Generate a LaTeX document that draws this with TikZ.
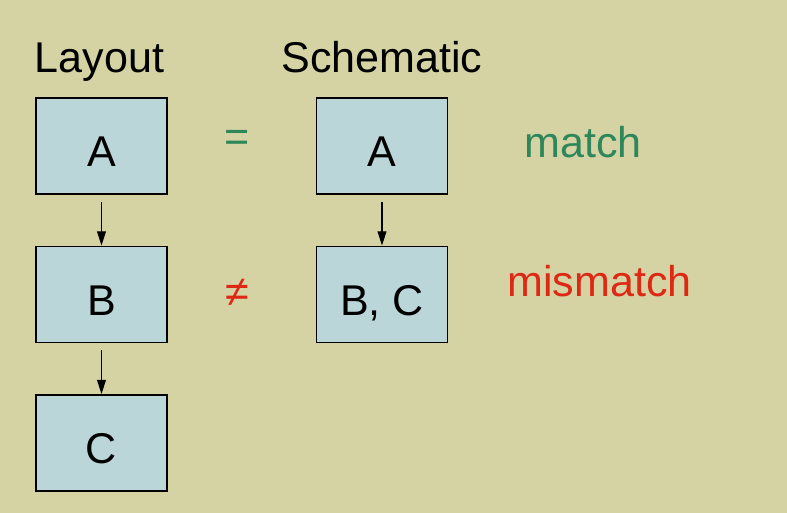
\documentclass[tikz,border=0pt]{standalone}
\usepackage{fontspec}
\setmainfont{Liberation Sans}
\usetikzlibrary{arrows.meta, positioning}
\definecolor{slidebg}{RGB}{213,211,163}
\definecolor{boxfill}{RGB}{186,214,216}
\definecolor{okgreen}{RGB}{46,135,90}
\definecolor{badred}{RGB}{222,40,20}

\begin{document}
\begin{tikzpicture}[
    blockbox/.style={draw=black, line width=1.1pt, fill=boxfill, minimum width=2.62cm, minimum height=1.92cm, inner sep=0pt, text height=0.84cm, text depth=0pt},
    bigtext/.style={font=\fontsize{24.5}{29}\selectfont},
    flow/.style={-{Triangle[length=8pt, width=5pt]}, line width=0.6pt, shorten <=4pt}
  ]
    % Background
    \fill[slidebg] (0,0) rectangle (15.74,10.26);
    \useasboundingbox (0,0) rectangle (15.74,10.26);

    % Column titles
    \node[bigtext, anchor=base] (layTitle) at (1.99,8.80) {Layout};
    \node[bigtext, anchor=base] (schTitle) at (7.64,8.80) {Schematic};

    % Layout column
    \node[blockbox, bigtext] (layA) at (2.03,7.34) {A};
    \node[blockbox, bigtext] (layB) at (2.03,4.37) {B};
    \node[blockbox, bigtext] (layC) at (2.03,1.40) {C};

    % Schematic column
    \node[blockbox, bigtext] (schA) at (7.64,7.34) {A};
    \node[blockbox, bigtext] (schBC) at (7.64,4.37) {B, C};

    % Arrows
    \draw[flow] (layA) -- (layB);
    \draw[flow] (layB) -- (layC);
    \draw[flow] (schA) -- (schBC);

    % Comparison signs
    \node[bigtext, text=okgreen] (eqSign) at (4.74,7.45) {=};
    \node[bigtext, text=badred] (neqSign) at (4.74,4.40) {≠};

    % Verdicts
    \node[bigtext, text=okgreen, anchor=base] (okLabel) at (11.66,7.10) {match};
    \node[bigtext, text=badred, anchor=base] (badLabel) at (11.99,4.32) {mismatch};
\end{tikzpicture}
\end{document}
